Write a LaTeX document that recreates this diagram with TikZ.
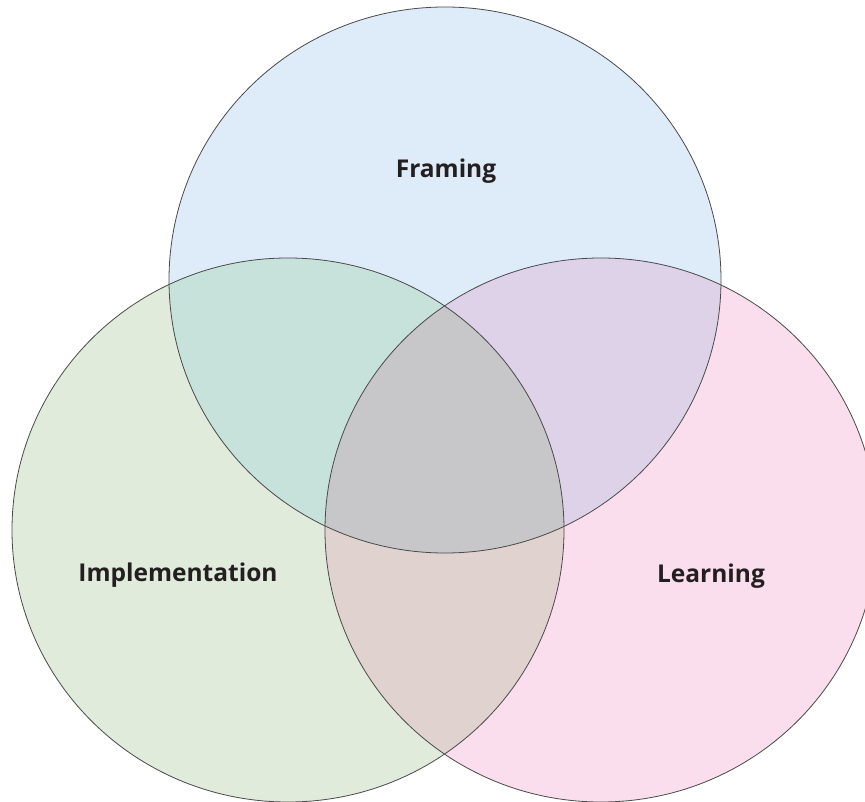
\documentclass[tikz,border=0pt]{standalone}
\usepackage{fontspec}
\setmainfont{Open Sans}
\definecolor{cBlue}{HTML}{DEECF9}
\definecolor{cGreen}{HTML}{E0EBDB}
\definecolor{cPink}{HTML}{FADEED}
\definecolor{cBG}{HTML}{C7E2DA}
\definecolor{cBP}{HTML}{DED2E9}
\definecolor{cGP}{HTML}{DFD2CF}
\definecolor{cAll}{HTML}{C7C7C9}
\definecolor{cLine}{HTML}{4A4A4A}
\definecolor{cText}{HTML}{231F20}
\tikzset{
  outline/.style={draw=cLine, line width=0.8pt},
  lbl/.style={font=\bfseries\fontsize{24.5}{28}\selectfont, text=cText, inner sep=0pt}
}
\begin{document}
\begin{tikzpicture}[x=1pt,y=-1pt]
\useasboundingbox (0,0) rectangle (865,802);
\clip (0,0) rectangle (865,802);
\def\topC{(445,280) ellipse [x radius=276, y radius=273]}
\def\leftC{(288,530) ellipse [x radius=276, y radius=272]}
\def\rightC{(601,530) ellipse [x radius=276, y radius=272]}
\fill[cBlue] \topC;
\fill[cGreen] \leftC;
\fill[cPink] \rightC;
\begin{scope}\clip \topC; \fill[cBG] \leftC; \end{scope}
\begin{scope}\clip \topC; \fill[cBP] \rightC; \end{scope}
\begin{scope}\clip \leftC; \fill[cGP] \rightC; \end{scope}
\begin{scope}\clip \topC; \clip \leftC; \fill[cAll] \rightC; \end{scope}
\draw[outline] \topC;
\draw[outline] \leftC;
\draw[outline] \rightC;
\node[lbl] (framing) at (446,171) {Framing};
\node[lbl] (impl) at (178,575) {Implementation};
\node[lbl] (learn) at (711,576) {Learning};
\end{tikzpicture}
\end{document}
